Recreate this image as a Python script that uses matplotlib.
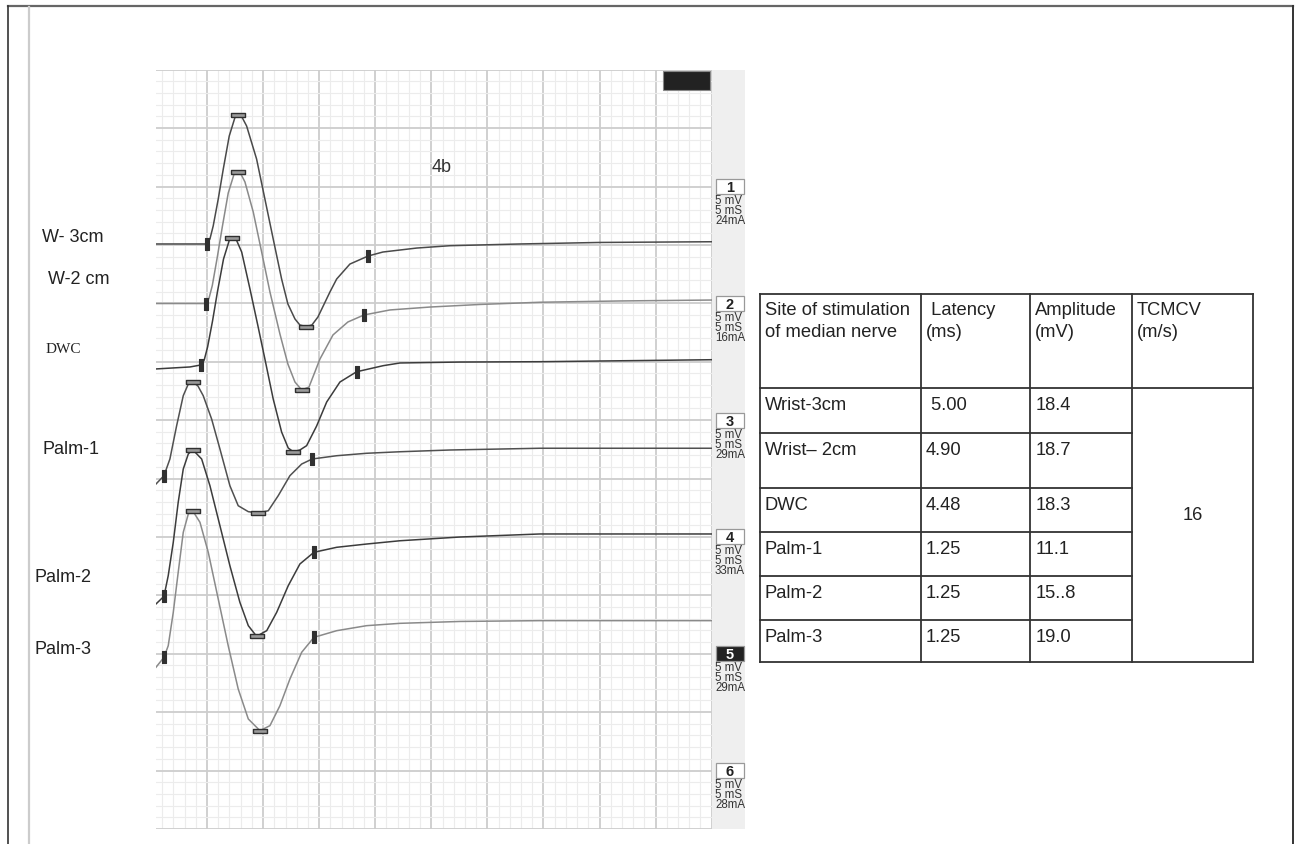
import matplotlib.pyplot as plt
from matplotlib.ticker import MultipleLocator
from matplotlib.patches import Rectangle

# traces: time (ms) and display level (mV), 5 mS/div and 5 mV/div
w3_t = [0.45, 4.97, 5.26, 5.55, 6.00, 6.45, 6.98, 7.49, 7.78, 8.11, 8.53, 9.42, 10.16, 10.90, 11.65,
        12.21, 12.84, 13.28, 13.82, 14.35, 14.89, 15.36, 15.96, 16.56, 17.74, 19.37, 20.68, 23.69,
        26.66, 32.90, 40.03, 50.0]
w3_v = [50.08, 50.08, 50.51, 51.62, 53.93, 56.50, 59.32, 60.91, 61.12, 60.95, 60.18, 57.35, 53.93,
        50.51, 47.08, 44.94, 43.66, 43.14, 43.01, 43.14, 43.83, 44.77, 45.97, 47.08, 48.36, 49.05,
        49.39, 49.73, 49.93, 50.08, 50.21, 50.27]

w2_t = [0.45, 4.88, 5.17, 5.47, 5.91, 6.36, 6.89, 7.40, 7.73, 8.02, 8.38, 9.12, 9.87, 10.61, 11.50,
        12.21, 12.84, 13.44, 14.09, 15.07, 16.23, 17.56, 18.99, 21.31, 24.88, 29.33, 34.68, 41.81, 50.0]
w2_v = [44.98, 44.98, 45.41, 46.52, 48.92, 51.53, 54.44, 56.03, 56.24, 56.07, 55.39, 52.82, 49.39,
        45.97, 42.37, 39.80, 38.26, 37.58, 37.83, 40.23, 42.29, 43.40, 44.00, 44.43, 44.68, 44.90,
        45.09, 45.20, 45.28]

dwc_t = [0.45, 3.48, 4.46, 4.75, 5.05, 5.49, 5.94, 6.47, 6.98, 7.25, 7.58, 8.09, 8.83, 9.54, 10.16,
         10.90, 11.65, 12.24, 12.69, 13.28, 13.88, 14.77, 15.67, 16.85, 18.34, 20.71, 22.20, 27.55,
         34.68, 50.0]
dwc_v = [39.38, 39.55, 39.72, 40.15, 41.26, 43.48, 46.05, 48.79, 50.38, 50.59, 50.51, 49.39, 46.22,
         43.06, 40.23, 36.81, 33.98, 32.61, 32.29, 32.44, 32.81, 34.49, 36.55, 38.26, 39.14, 39.66,
         39.89, 39.97, 40.00, 40.17]

p1_t = [0.45, 1.16, 1.69, 2.29, 2.88, 3.33, 3.77, 4.19, 4.66, 5.41, 6.15, 7.04, 7.78, 8.68, 9.57,
        10.46, 11.35, 12.39, 13.44, 14.38, 16.56, 19.23, 22.20, 26.66, 34.68, 50.0]
p1_v = [29.53, 30.24, 31.67, 34.52, 37.09, 38.09, 38.24, 37.92, 37.09, 35.09, 32.53, 29.38, 27.67,
        27.16, 27.05, 27.24, 28.53, 30.24, 31.24, 31.67, 31.95, 32.16, 32.29, 32.44, 32.59, 32.59]

p2_t = [0.45, 1.16, 1.54, 1.99, 2.43, 2.88, 3.33, 3.72, 4.52, 5.26, 6.15, 7.04, 7.93, 8.68, 9.42,
        10.32, 11.21, 12.24, 13.28, 14.53, 16.56, 19.23, 22.20, 27.55, 34.68, 50.0]
p2_v = [19.26, 19.91, 21.68, 24.54, 27.96, 30.81, 32.10, 32.47, 31.67, 29.38, 25.96, 22.53, 19.40,
        17.40, 16.49, 16.97, 18.54, 20.82, 22.68, 23.68, 24.11, 24.39, 24.67, 24.99, 25.25, 25.25]

p3_t = [0.45, 1.16, 1.54, 1.99, 2.43, 2.88, 3.33, 3.72, 4.37, 5.11, 6.00, 6.89, 7.78, 8.68, 9.72,
        10.61, 11.50, 12.39, 13.44, 14.53, 16.56, 19.23, 22.20, 27.55, 34.68, 50.0]
p3_v = [13.84, 14.69, 15.68, 18.54, 21.97, 25.39, 26.96, 27.24, 26.25, 23.68, 19.68, 15.68, 11.98,
        9.41, 8.41, 8.84, 10.55, 12.83, 15.12, 16.40, 16.97, 17.40, 17.60, 17.76, 17.83, 17.83]

# cursor marks: onset / end (vertical) and peak / trough (horizontal)
onset_t = [4.97, 4.88, 4.46, 1.16, 1.16, 1.16]
onset_v = [50.08, 44.98, 39.72, 30.24, 19.91, 14.69]
end_t = [19.37, 18.99, 18.34, 14.38, 14.53, 14.53]
end_v = [49.05, 44.00, 39.14, 31.67, 23.68, 16.40]
peak_t = [7.78, 7.73, 7.25, 3.77, 3.72, 3.72]
peak_v = [61.12, 56.24, 50.59, 38.24, 32.47, 27.24]
trough_t = [13.82, 13.44, 12.69, 9.57, 9.42, 9.72]
trough_v = [43.01, 37.58, 32.29, 27.05, 16.49, 8.41]

trace_colors = ['#4a4a4a', '#8a8a8a', '#3c3c3c', '#505050', '#3c3c3c', '#8a8a8a']

# channel settings
channels = ['1', '2', '3', '4', '5', '6']
ch_level = [55, 45, 35, 25, 15, 5]
ch_current = ['24mA', '16mA', '29mA', '33mA', '29mA', '28mA']

site_labels = ['W- 3cm', 'W-2 cm', 'DWC', 'Palm-1', 'Palm-2', 'Palm-3']

# table
headers = [['Site of stimulation', 'of median nerve'], [' Latency', '(ms)'],
           ['Amplitude', '(mV)'], ['TCMCV', '(m/s)']]
sites = ['Wrist-3cm', 'Wrist\u2013 2cm', 'DWC', 'Palm-1', 'Palm-2', 'Palm-3']
latency = [' 5.00', '4.90', '4.48', '1.25', '1.25', '1.25']
amplitude = ['18.4', '18.7', '18.3', '11.1', '15..8', '19.0']
tcmcv = '16'

plt.rcParams['font.family'] = ['Liberation Sans', 'DejaVu Sans']

W, H = 1296, 845
fig = plt.figure(figsize=(W / 100, H / 100), dpi=100)
fig.patch.set_facecolor('white')

# recording grid
gx0, gx1, gy0, gy1 = 156, 711.7, 70.7, 829.9
ax = fig.add_axes([gx0 / W, (H - gy1) / H, (gx1 - gx0) / W, (gy1 - gy0) / H])
ax.set_xlim(0.45, 50)
ax.set_ylim(0, 65)
ax.xaxis.set_major_locator(MultipleLocator(5))
ax.xaxis.set_minor_locator(MultipleLocator(1))
ax.yaxis.set_major_locator(MultipleLocator(5))
ax.yaxis.set_minor_locator(MultipleLocator(1))
ax.grid(which='minor', color='#ececec', lw=0.8)
ax.grid(which='major', color='#cdcdcd', lw=1.3)
ax.set_axisbelow(True)
ax.tick_params(which='both', length=0, labelbottom=False, labelleft=False)
for s in ax.spines.values():
    s.set_visible(False)

hbar = [(-3, -1), (3, -1), (3, 1), (-3, 1), (-3, -1)]
vbar = [(-1, -3), (1, -3), (1, 3), (-1, 3), (-1, -3)]

all_t = [w3_t, w2_t, dwc_t, p1_t, p2_t, p3_t]
all_v = [w3_v, w2_v, dwc_v, p1_v, p2_v, p3_v]
for i in range(6):
    ax.plot(all_t[i], all_v[i], color=trace_colors[i], lw=1.1, zorder=3)
    ax.plot([onset_t[i], end_t[i]], [onset_v[i], end_v[i]], ls='none', marker=vbar,
            ms=8.5, mfc='#303030', mec='#303030', mew=0.8, zorder=4)
    ax.plot([peak_t[i], trough_t[i]], [peak_v[i], trough_v[i]], ls='none', marker=hbar,
            ms=9.5, mfc='#9a9a9a', mec='#303030', mew=1.0, zorder=4)

# overlay in pixel coordinates
bg = fig.add_axes([0, 0, 1, 1], zorder=5)
bg.set_facecolor('none')
bg.set_xlim(0, W)
bg.set_ylim(H, 0)
bg.axis('off')

# outer frame
bg.plot([8, 1293], [7, 7], color='#666666', lw=1.6)
bg.plot([8, 8], [7, H], color='#333333', lw=1.2)
bg.plot([1293, 1293], [7, H], color='#333333', lw=1.4)
bg.plot([29, 29], [8, H], color='#cccccc', lw=1.6)

# channel strip
bg.add_patch(Rectangle((712, 71), 33, 759, facecolor='#efefef', edgecolor='none'))
bg.add_patch(Rectangle((663, 72), 47, 19, facecolor='#222222', edgecolor='#888888', lw=0.8))

def level_to_px(v):
    return gy1 - v * (gy1 - gy0) / 65

for i in range(6):
    cy = level_to_px(ch_level[i])
    dark = channels[i] == '5'
    bg.add_patch(Rectangle((716, cy - 7.5), 28, 15, facecolor='#222222' if dark else 'white',
                           edgecolor='#999999', lw=0.9))
    bg.text(730, cy + 0.5, channels[i], ha='center', va='center', fontsize=10.5, fontweight='bold',
            color='white' if dark else '#222222')
    for j, s in enumerate(['5 mV', '5 mS', ch_current[i]]):
        bg.text(715, cy + 13.5 + 10 * j, s, ha='left', va='center', fontsize=8.3,
                family=['Liberation Sans Narrow', 'Liberation Sans'], color='#333333')

bg.text(432, 167, '4b', ha='left', va='center', fontsize=13, color='#333333')

# left site labels
label_x = [42, 48, 46, 42, 34, 34]
label_y = [238, 280, 350, 450, 578, 650]
for i, s in enumerate(site_labels):
    if s == 'DWC':
        bg.text(label_x[i], label_y[i], s, ha='left', va='center', fontsize=11,
                family=['Liberation Serif'], color='#222222')
    else:
        bg.text(label_x[i], label_y[i], s, ha='left', va='center', fontsize=13,
                color='#222222')

# table
col_x = [760, 920.7, 1030.3, 1132, 1252.7]
row_y = [295, 389.3, 434, 489, 533, 577, 621, 662.7]
lc = '#333333'
lw = 1.3
for x in col_x:
    bg.plot([x, x], [row_y[0], row_y[-1]], color=lc, lw=lw, solid_capstyle='projecting')
for k, y in enumerate(row_y):
    x_end = col_x[4] if k in (0, 1, len(row_y) - 1) else col_x[3]
    bg.plot([col_x[0], x_end], [y, y], color=lc, lw=lw, solid_capstyle='projecting')

for c, lines in enumerate(headers):
    for j, s in enumerate(lines):
        bg.text(col_x[c] + 5, 311 + 22 * j, s, ha='left', va='center',
                fontsize=13.2, color='#222222')
for r in range(6):
    yc = row_y[r + 1] + 16.5
    bg.text(col_x[0] + 5, yc, sites[r], ha='left', va='center', fontsize=13.2, color='#222222')
    bg.text(col_x[1] + 5, yc, latency[r], ha='left', va='center', fontsize=13.2, color='#222222')
    bg.text(col_x[2] + 5, yc, amplitude[r], ha='left', va='center', fontsize=13.2, color='#222222')
bg.text(1192.5, 516, tcmcv, ha='center', va='center', fontsize=13.2, color='#222222')

fig.savefig('out.png', dpi=100)
